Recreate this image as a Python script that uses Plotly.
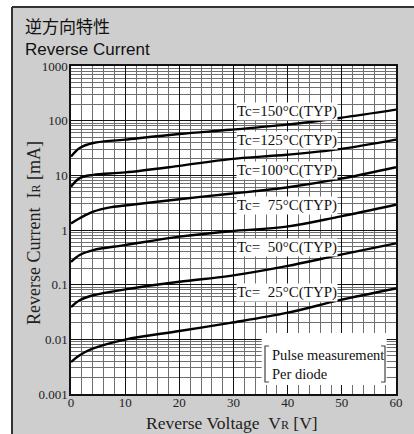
import plotly.graph_objects as go
import math

# ---- data ----
vr = [0, 1.6, 4.1, 10, 20, 29.4, 39.8, 49.6, 60]
ir_150 = [22, 31.6, 39, 45, 57, 68, 84.5, 112, 159]
ir_125 = [6.2, 8.9, 10.2, 11.3, 14.9, 19.8, 23.8, 30.2, 45]
vr_100 = [0, 1.6, 4.1, 7.2, 10, 20, 29.4, 39.8, 49.6, 60]
ir_100 = [1.32, 1.64, 2.17, 2.6, 2.8, 3.66, 4.6, 6.0, 8.6, 14.1]
ir_75 = [0.26, 0.35, 0.43, 0.53, 0.755, 0.95, 1.15, 1.76, 2.9]
ir_50 = [0.039, 0.052, 0.064, 0.082, 0.113, 0.145, 0.218, 0.35, 0.57]
ir_25 = [0.00384, 0.0051, 0.0068, 0.0099, 0.0142, 0.02, 0.0304, 0.052, 0.085]

labels = ["Tc=150°C(TYP)", "Tc=125°C(TYP)", "Tc=100°C(TYP)",
          "Tc=&nbsp;&nbsp;75°C(TYP)", "Tc=&nbsp;&nbsp;50°C(TYP)", "Tc=&nbsp;&nbsp;25°C(TYP)"]
label_v = [39.8, 39.8, 39.8, 39.8, 39.8, 39.8]
label_i = [146, 44.3, 12.5, 2.75, 0.469, 0.0713]

x_ticks = [0, 10, 20, 30, 40, 50, 60]
y_ticks = [0.001, 0.01, 0.1, 1, 10, 100, 1000]
y_ticktext = ["0.001", "0.01", "0.1", "1", "10", "100", "1000"]

series = [(vr, ir_150), (vr, ir_125), (vr_100, ir_100), (vr, ir_75), (vr, ir_50), (vr, ir_25)]

SERIF = "Liberation Serif, Times New Roman, serif"
SANS = "Liberation Sans, Arial, sans-serif"

fig = go.Figure()
for xs, ys in series:
    fig.add_trace(go.Scatter(x=xs, y=ys, mode="lines",
                             line=dict(color="black", width=2.4, shape="spline", smoothing=1.0),
                             hoverinfo="skip", showlegend=False))

# plot geometry (px)
L, R, T, B = 71, 18, 66, 40
W, H = 414, 434
PW, PH = W - L - R, H - T - B

def xp(px):
    return (px - L) / PW

def yp(py):
    return (H - B - py) / PH

shapes = []
# white outer strips & frame
shapes.append(dict(type="rect", xref="paper", yref="paper", x0=xp(-2), x1=xp(12), y0=yp(440), y1=yp(-2),
                   fillcolor="white", line=dict(width=0), layer="above"))
shapes.append(dict(type="rect", xref="paper", yref="paper", x0=xp(-2), x1=xp(420), y0=yp(7), y1=yp(-2),
                   fillcolor="white", line=dict(width=0), layer="above"))
shapes.append(dict(type="line", xref="paper", yref="paper", x0=xp(12), x1=xp(12), y0=yp(7), y1=yp(440),
                   line=dict(color="#333333", width=2)))
shapes.append(dict(type="line", xref="paper", yref="paper", x0=xp(12), x1=xp(420), y0=yp(7), y1=yp(7),
                   line=dict(color="#333333", width=2)))
# white note box
shapes.append(dict(type="rect", xref="paper", yref="paper", x0=xp(261.7), x1=xp(386.7), y0=yp(385), y1=yp(333),
                   fillcolor="white", line=dict(width=0), layer="above"))
# brackets
shapes.append(dict(type="path", xref="paper", yref="paper",
                   path=f"M {xp(269)} {yp(346)} L {xp(265)} {yp(346)} L {xp(265)} {yp(382)} L {xp(269)} {yp(382)}",
                   line=dict(color="#444444", width=1.2), layer="above"))
shapes.append(dict(type="path", xref="paper", yref="paper",
                   path=f"M {xp(381)} {yp(346)} L {xp(385)} {yp(346)} L {xp(385)} {yp(382)} L {xp(381)} {yp(382)}",
                   line=dict(color="#444444", width=1.2), layer="above"))

annotations = []
for t, v, i in zip(labels, label_v, label_i):
    annotations.append(dict(x=v, y=math.log10(i), xref="x", yref="y", text=t, showarrow=False,
                            font=dict(family=SERIF, size=15, color="#111111"),
                            bgcolor="white", borderpad=0))
annotations.append(dict(x=xp(270), y=yp(364), xref="paper", yref="paper", xanchor="left", yanchor="middle",
                        align="left", text="Pulse measurement<br>Per diode", showarrow=False,
                        font=dict(family=SERIF, size=14.5, color="#111111")))
annotations.append(dict(x=xp(23), y=yp(25.5), xref="paper", yref="paper", xanchor="left", yanchor="middle",
                        text="逆方向特性", showarrow=False,
                        font=dict(family="Noto Sans CJK JP", size=17, color="#111111")))
annotations.append(dict(x=xp(23), y=yp(49.5), xref="paper", yref="paper", xanchor="left", yanchor="middle",
                        text="Reverse Current", showarrow=False,
                        font=dict(family=SANS, size=17, color="#111111")))
annotations.append(dict(x=xp(232), y=yp(422.5), xref="paper", yref="paper", xanchor="center", yanchor="middle",
                        text="Reverse Voltage&nbsp;&nbsp;V<span style='font-size:12px'>R</span> [V]",
                        showarrow=False, font=dict(family=SERIF, size=17.5, color="#222222")))
annotations.append(dict(x=xp(34), y=yp(233), xref="paper", yref="paper", xanchor="center", yanchor="middle",
                        textangle=-90,
                        text="Reverse Current&nbsp;&nbsp;I<span style='font-size:12px'>R</span> [mA]",
                        showarrow=False, font=dict(family=SERIF, size=18, color="#222222")))

fig.update_layout(
    width=W, height=H,
    margin=dict(l=L, r=R, t=T, b=B, pad=0),
    paper_bgcolor="#cecece", plot_bgcolor="white",
    shapes=shapes, annotations=annotations,
    showlegend=False,
    xaxis=dict(range=[0, 60], tickvals=x_ticks, showgrid=True, gridcolor="#111111", gridwidth=1.4,
               minor=dict(dtick=2, showgrid=True, gridcolor="#6f6f6f", gridwidth=1),
               showline=True, linecolor="#111111", linewidth=1.5, mirror=True, zeroline=False,
               ticks="", ticklabelstandoff=-4,
               tickfont=dict(family=SERIF, size=13, color="#222222")),
    yaxis=dict(type="log", range=[-3, 3], tickvals=y_ticks, ticktext=y_ticktext,
               showgrid=True, gridcolor="#111111", gridwidth=1.4,
               minor=dict(dtick="D1", showgrid=True, gridcolor="#6f6f6f", gridwidth=1),
               showline=True, linecolor="#111111", linewidth=1.5, mirror=True, zeroline=False,
               ticks="", ticklabelstandoff=-1,
               tickfont=dict(family=SERIF, size=13, color="#222222")),
)

fig.write_html("out.html", config={"displayModeBar": False},
               post_script="document.body.style.margin='0';document.body.style.overflow='hidden';")
